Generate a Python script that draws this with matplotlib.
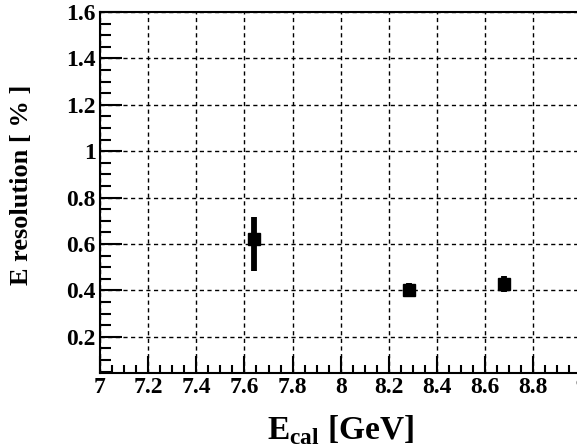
import numpy as np
import matplotlib
matplotlib.use('Agg')
import matplotlib.pyplot as plt
from matplotlib.ticker import MultipleLocator

# energy resolution points
e_cal = [7.64, 8.285, 8.68]
res = [0.62, 0.40, 0.428]
err_lo = [0.135, 0.03, 0.035]
err_hi = [0.095, 0.03, 0.035]

plt.rcParams['font.family'] = 'Liberation Serif'
plt.rcParams['font.weight'] = 'bold'
plt.rcParams['mathtext.fontset'] = 'custom'
plt.rcParams['mathtext.rm'] = 'Liberation Serif:bold'
plt.rcParams['mathtext.bf'] = 'Liberation Serif:bold'

fig = plt.figure(figsize=(5.77, 4.44), dpi=100)
ax = fig.add_axes([100/577, (444-372.7)/444, 481.5/577, (372.7-12)/444])

ax.errorbar(e_cal, res, yerr=[err_lo, err_hi], fmt='s', color='black',
            ms=8.5, elinewidth=4.2, capsize=0, zorder=3)

ax.set_xlim(7, 9)
ax.set_ylim(0.045, 1.6)
ax.xaxis.set_minor_locator(MultipleLocator(0.05))
ax.yaxis.set_minor_locator(MultipleLocator(0.05))
ax.set_xticks(np.arange(7, 9.01, 0.2))
ax.set_xticklabels(['7', '7.2', '7.4', '7.6', '7.8', '8', '8.2', '8.4', '8.6', '8.8', '9'])
ax.set_yticks(np.arange(0.2, 1.61, 0.2))
ax.set_yticklabels(['0.2', '0.4', '0.6', '0.8', '1', '1.2', '1.4', '1.6'])

ax.grid(True, which='major', color='black', lw=1, linestyle=(0, (3, 2.5)))
ax.tick_params(axis='both', which='both', direction='in', top=False, right=False,
               labelsize=17, width=1.5)
ax.tick_params(axis='x', which='major', length=12, pad=3)
ax.tick_params(axis='x', which='minor', length=6)
ax.tick_params(axis='y', which='major', length=16, pad=3)
ax.tick_params(axis='y', which='minor', length=8)
for s in ax.spines.values():
    s.set_linewidth(1.5)

ax.set_xlabel(r'E$_{\mathrm{cal}}$ [GeV]', fontsize=24, fontweight='bold', labelpad=11)
ax.set_ylabel('E resolution [ % ]', fontsize=19, fontweight='bold')
ax.yaxis.set_label_coords(-0.14, 0.52)

fig.savefig('out.png', dpi=100)
